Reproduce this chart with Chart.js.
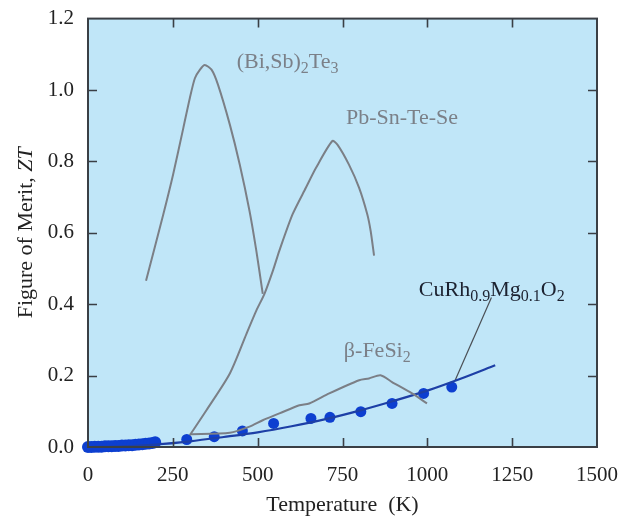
<!DOCTYPE html>
<html lang="en">
<head>
<meta charset="UTF-8">
<title>Figure of Merit ZT</title>
<script src="https://cdn.jsdelivr.net/npm/chart.js@4.4.2/dist/chart.umd.min.js"></script>
<style>
  body { margin: 0; padding: 0; background: #fff; }
  #wrap { width: 626px; height: 518px; }
</style>
</head>
<body>
<div id="wrap"><canvas id="ztChart" width="626" height="518"></canvas></div>
<script>
// (Bi,Sb)2Te3
const bisbT  = [171, 222, 251, 281, 300, 315, 330, 344, 364, 383, 418, 447, 476, 496, 515];
const bisbZT = [0.466, 0.652, 0.764, 0.894, 0.977, 1.033, 1.057, 1.070, 1.057, 1.015, 0.903, 0.792, 0.661, 0.550, 0.429];

// Pb-Sn-Te-Se
const pbT  = [300, 349, 418, 467, 496, 520, 545, 564, 603, 642, 672, 720, 735, 769, 799, 823, 833, 843];
const pbZT = [0.033, 0.103, 0.206, 0.317, 0.382, 0.429, 0.494, 0.550, 0.652, 0.726, 0.782, 0.857, 0.847, 0.791, 0.726, 0.652, 0.605, 0.536];

// beta-FeSi2
const feT  = [300, 418, 476, 515, 564, 623, 652, 711, 799, 828, 862, 896, 955, 999];
const feZT = [0.036, 0.040, 0.057, 0.075, 0.094, 0.117, 0.122, 0.150, 0.187, 0.192, 0.201, 0.182, 0.150, 0.122];

// CuRh0.9Mg0.1O2 fitted line
const fitT  = [0, 100, 200, 300, 400, 500, 600, 700, 800, 900, 1000, 1100, 1200];
const fitZT = [0, 0.002, 0.007, 0.016, 0.028, 0.041, 0.058, 0.078, 0.102, 0.129, 0.158, 0.192, 0.229];

// CuRh0.9Mg0.1O2 measured points
const dotT  = [291, 372, 455, 547, 657, 713, 804, 896, 989, 1072];
const dotZT = [0.021, 0.029, 0.045, 0.066, 0.080, 0.083, 0.099, 0.122, 0.150, 0.168];

// dense low temperature points
const lowT  = [0, 10, 20, 30, 40, 50, 60, 70, 80, 90, 100, 110, 120, 130, 140, 150, 160, 170, 180, 190, 198];
const lowZT = [0, 0, 0.001, 0.001, 0.001, 0.002, 0.002, 0.002, 0.003, 0.003, 0.004, 0.004, 0.005, 0.005, 0.006, 0.007, 0.008, 0.009, 0.010, 0.011, 0.013];

// leader line from label to curve
const leadT  = [1082, 1189];
const leadZT = [0.187, 0.419];

const xTicks = [0, 250, 500, 750, 1000, 1250, 1500];
const yTicks = [0, 0.2, 0.4, 0.6, 0.8, 1.0, 1.2];

// curve labels (text parts, sub = subscript)
const curveLabels = [
  {t: 438, zt: 1.063, color: '#7b8088', parts: [['(Bi,Sb)'], ['2', 1], ['Te'], ['3', 1]]},
  {t: 760, zt: 0.904, color: '#7b8088', parts: [['Pb-Sn-Te-Se']]},
  {t: 754, zt: 0.251, color: '#7b8088', parts: [['\u03B2-FeSi'], ['2', 1]]},
  {t: 975, zt: 0.424, color: '#1c2230', parts: [['CuRh'], ['0.9', 1], ['Mg'], ['0.1', 1], ['O'], ['2', 1]]}
];

const FONT = "'Liberation Serif', 'Times New Roman', serif";

function pts(xs, ys) {
  return xs.map((x, i) => ({x: x, y: ys[i]}));
}

const framePlugin = {
  id: 'frame',
  beforeDatasetsDraw(chart) {
    const a = chart.chartArea, c = chart.ctx;
    c.save();
    c.fillStyle = '#c0e6f8';
    c.fillRect(a.left, a.top, a.right - a.left, a.bottom - a.top);
    c.restore();
  },
  afterDatasetsDraw(chart) {
    const a = chart.chartArea, c = chart.ctx;
    const xs = chart.scales.x, ys = chart.scales.y;
    c.save();
    c.strokeStyle = '#3a3f45';
    c.lineWidth = 2;
    c.strokeRect(a.left, a.top, a.right - a.left, a.bottom - a.top);
    c.lineWidth = 1.6;
    c.beginPath();
    xTicks.slice(1, -1).forEach(v => {
      const px = Math.round(xs.getPixelForValue(v)) + 0.5;
      c.moveTo(px, a.bottom); c.lineTo(px, a.bottom - 9);
      c.moveTo(px, a.top); c.lineTo(px, a.top + 9);
    });
    yTicks.slice(1, -1).forEach(v => {
      const py = Math.round(ys.getPixelForValue(v)) + 0.5;
      c.moveTo(a.left, py); c.lineTo(a.left + 9, py);
      c.moveTo(a.right, py); c.lineTo(a.right - 9, py);
    });
    c.stroke();
    c.restore();
  },
  afterDraw(chart) {
    const a = chart.chartArea, c = chart.ctx;
    const xs = chart.scales.x, ys = chart.scales.y;
    c.save();
    // curve labels
    c.textBaseline = 'alphabetic';
    c.textAlign = 'left';
    curveLabels.forEach(lb => {
      let px = xs.getPixelForValue(lb.t);
      const py = ys.getPixelForValue(lb.zt);
      c.fillStyle = lb.color;
      lb.parts.forEach(p => {
        c.font = p[1] ? '16px ' + FONT : '22px ' + FONT;
        c.fillText(p[0], px, p[1] ? py + 5 : py);
        px += c.measureText(p[0]).width;
      });
    });
    // x axis title
    c.fillStyle = '#222';
    c.font = '22px ' + FONT;
    c.textAlign = 'center';
    c.textBaseline = 'middle';
    c.fillText('Temperature  (K)', (a.left + a.right) / 2, 505);
    // y axis title with italic ZT
    c.translate(26, (a.top + a.bottom) / 2);
    c.rotate(-Math.PI / 2);
    c.textAlign = 'left';
    c.font = '22px ' + FONT;
    const s1 = 'Figure of Merit, ';
    const w1 = c.measureText(s1).width;
    c.font = 'italic 22px ' + FONT;
    const w2 = c.measureText('ZT').width;
    const x0 = -(w1 + w2) / 2;
    c.font = '22px ' + FONT;
    c.fillText(s1, x0, 0);
    c.font = 'italic 22px ' + FONT;
    c.fillText('ZT', x0 + w1, 0);
    c.restore();
  }
};

const grayLine = {
  showLine: true, borderColor: '#7b7f86', borderWidth: 2, pointRadius: 0, tension: 0.25, fill: false
};

new Chart(document.getElementById('ztChart').getContext('2d'), {
  type: 'scatter',
  data: {
    datasets: [
      Object.assign({label: '(Bi,Sb)2Te3', data: pts(bisbT, bisbZT)}, grayLine),
      Object.assign({label: 'Pb-Sn-Te-Se', data: pts(pbT, pbZT)}, grayLine),
      Object.assign({label: 'beta-FeSi2', data: pts(feT, feZT)}, grayLine),
      {label: 'fit', data: pts(fitT, fitZT), showLine: true, borderColor: '#1d3fa6', borderWidth: 2.2,
       pointRadius: 0, tension: 0.3},
      {label: 'leader', data: pts(leadT, leadZT), showLine: true, borderColor: '#4a4f55', borderWidth: 1.2,
       pointRadius: 0},
      {label: 'low T', data: pts(lowT, lowZT), pointRadius: 6, pointBackgroundColor: '#0d3fd0',
       pointBorderWidth: 0, clip: false},
      {label: 'CuRh0.9Mg0.1O2', data: pts(dotT, dotZT), pointRadius: 5.5, pointBackgroundColor: '#0d3fd0',
       pointBorderWidth: 0, clip: false}
    ]
  },
  options: {
    responsive: false,
    animation: false,
    layout: {padding: {top: 17, right: 27, left: 0, bottom: 0}},
    plugins: {legend: {display: false}, tooltip: {enabled: false}},
    scales: {
      x: {
        type: 'linear', min: 0, max: 1500,
        afterFit: s => { s.height = 71; },
        afterBuildTicks: s => { s.ticks = xTicks.map(v => ({value: v})); },
        grid: {display: false}, border: {display: false},
        ticks: {color: '#222', padding: 8, font: {family: FONT, size: 21}, maxRotation: 0, autoSkip: false,
                callback: v => String(v)}
      },
      y: {
        type: 'linear', min: 0, max: 1.2,
        afterFit: s => { s.width = 88; },
        afterBuildTicks: s => { s.ticks = yTicks.map(v => ({value: v})); },
        grid: {display: false}, border: {display: false},
        ticks: {color: '#222', padding: 6, font: {family: FONT, size: 21},
                callback: v => Number(v).toFixed(1)}
      }
    }
  },
  plugins: [framePlugin]
});
</script>
</body>
</html>
